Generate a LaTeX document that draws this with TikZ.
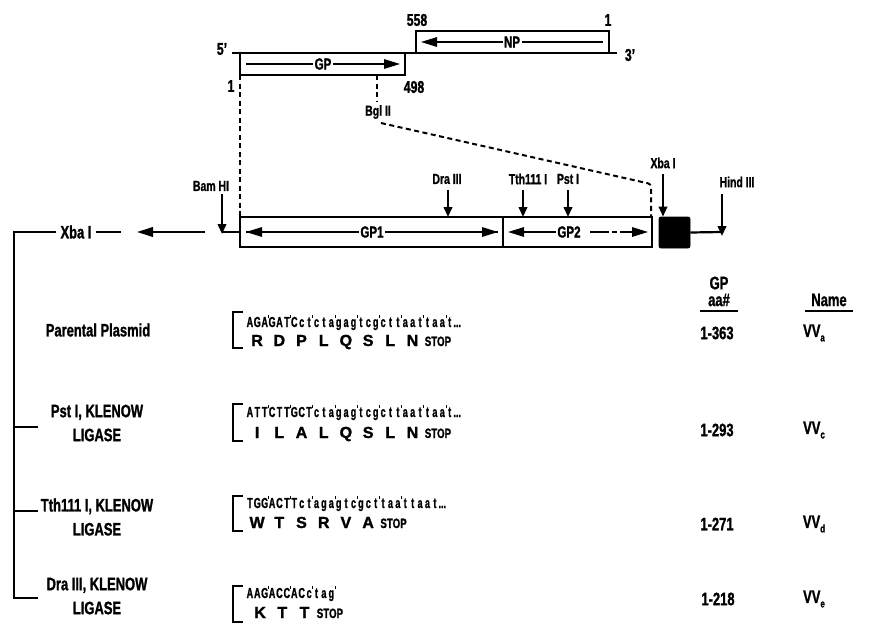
\documentclass[tikz,border=0pt]{standalone}
\usepackage{fontspec}
\setmainfont{Liberation Sans}[FakeStretch=0.72,BoldFeatures={FakeBold=1.2}]
\newfontfamily\aafont{Liberation Sans}[BoldFeatures={FakeBold=1.6}]
\newfontfamily\ntfont{Liberation Sans}[FakeStretch=0.62,BoldFeatures={FakeBold=1.2}]
\usetikzlibrary{arrows.meta}
\newcommand\seqch[1]{\if#1'\makebox[0pt]{\raisebox{9pt}{\rule{0.9pt}{3pt}}}\else\makebox[7.4pt]{#1}\fi}
\def\seqloop#1{\ifx#1\relax\else\seqch{#1}\expandafter\seqloop\fi}
\newcommand\seqrun[1]{\seqloop#1\relax}
\newcommand\sbs[1]{\raisebox{-4.5pt}{\fontsize{11}{11}\selectfont #1}}
\tikzset{
  bx/.style={draw,line width=2.4pt,inner sep=0pt,outer sep=0pt,fill=white},
  big/.style={font=\fontsize{18}{24}\selectfont\bfseries,inner sep=0pt,align=center},
  num/.style={font=\fontsize{17}{18}\selectfont\bfseries,inner sep=0pt},
  site/.style={font=\fontsize{14.5}{15}\selectfont\bfseries,inner sep=0pt},
  inbox/.style={font=\fontsize{16}{16}\selectfont\bfseries,fill=white,inner sep=1.5pt},
  nt/.style={font=\ntfont\fontsize{14.5}{15}\selectfont\bfseries,inner sep=0pt,anchor=base west},
  aa/.style={font=\aafont\fontsize{16}{16}\selectfont\bfseries,inner sep=0pt,anchor=base},
  stp/.style={font=\fontsize{13.5}{14}\selectfont\bfseries,inner sep=0pt,anchor=base west},
  ln/.style={line width=2.2pt},
  cut/.style={line width=2.2pt,-{Triangle[length=10pt,width=8.5pt]}},
  inarrow/.style={line width=1.6pt},
  tipb/.style={-{Triangle[length=16pt,width=9.5pt]}},
  dsh/.style={line width=2pt,dash pattern=on 5pt off 3.5pt},
  brk/.style={line width=2.6pt},
}
\begin{document}
\begin{tikzpicture}[x=1pt,y=-1pt]
\useasboundingbox (0,0) rectangle (877,624);
% ---------- top genome ----------
\coordinate (g5) at (232,53);
\coordinate (g3) at (617,53);
\draw[ln] (g5) -- (g3);
\node[bx,minimum width=165pt,minimum height=22pt] (gp) at (322.5,64) {};
\node[bx,minimum width=193pt,minimum height=22pt] (np) at (512.5,42) {};
\node[num] (t5) at (222,49) {5'};
\node[num] (t3) at (630,55) {3'};
\node[num] (n558) at (417,20) {558};
\node[num] (n1np) at (608,20) {1};
\node[num] (n1gp) at (231,86) {1};
\node[num] (n498) at (414,87) {498};
\draw[inarrow,tipb] ([xshift=6pt]gp.west) -- ([xshift=-5pt]gp.east);
\node[inbox] (gplab) at (323,64) {GP};
\draw[inarrow,tipb] ([xshift=-6pt]np.east) -- ([xshift=5pt]np.west);
\node[inbox] (nplab) at (512,42) {NP};
% ---------- middle map ----------
\node[bx,minimum width=263pt,minimum height=30pt] (gp1) at (371.5,232) {};
\node[bx,minimum width=149pt,minimum height=30pt] (gp2) at (577.5,232) {};
\node[draw,fill=black,rounded corners=2pt,minimum width=31pt,minimum height=31pt,inner sep=0pt,line width=0.8pt] (xbox) at (674.5,232.5) {};
\coordinate (bamc) at (222,232);
\coordinate (hindc) at (722,232);
\draw[ln] (bamc) -- (gp1.west);
\draw[ln] (xbox.east) -- (hindc);
\draw[inarrow,tipb] ([xshift=-5pt]gp1.east) -- ([xshift=6pt]gp1.west);
\draw[inarrow,tipb] ([xshift=6pt]gp1.west) -- ([xshift=-5pt]gp1.east);
\node[inbox] (gp1lab) at (372,232) {GP1};
\coordinate (gp2m) at (560,232);
\coordinate (gp2s) at (590,232);
\coordinate (gp2d) at (625,232);
\draw[inarrow,tipb] (gp2m) -- ([xshift=5pt]gp2.west);
\draw[inarrow] (gp2s) -- (604,232);
\draw[inarrow,dash pattern=on 5pt off 3pt] (604,232) -- (gp2d);
\draw[inarrow,tipb] (gp2d) -- ([xshift=-4pt]gp2.east);
\node[inbox] (gp2lab) at (569,232) {GP2};
% restriction sites
\node[site] (bam) at (211,186) {Bam HI};
\coordinate (bamt) at (222,194);
\draw[cut] (bamt) -- ([yshift=-2pt]bamc);
\node[site] (dra) at (447,179) {Dra III};
\coordinate (drat) at (448,190);
\draw[cut] (drat) -- (drat |- gp1.north);
\node[site] (tth) at (528,179) {Tth111 I};
\coordinate (ttht) at (523,190);
\draw[cut] (ttht) -- (ttht |- gp2.north);
\node[site] (pst) at (568,179) {Pst I};
\coordinate (pstt) at (568,190);
\draw[cut] (pstt) -- (pstt |- gp2.north);
\node[site] (xba) at (663,163) {Xba I};
\coordinate (xbat) at (663,174);
\draw[cut] (xbat) -- (xbat |- xbox.north);
\node[site] (hind) at (737,182) {Hind III};
\coordinate (hindt) at (722,194);
\draw[cut] (hindt) -- ([yshift=-4pt]hindc);
% dashed correspondence lines
\node[site] (bgl) at (378,112) {Bgl II};
\coordinate (bglt) at (377,75);
\draw[dsh] (bglt) -- (377,102);
\coordinate (bk1) at (381,123);
\coordinate (bk2) at (651,184);
\draw[dsh,rounded corners=3pt] (bk1) -- (bk2) -- (bk2 |- gp2.north);
\draw[dsh] (gp.south west) -- (gp1.north west);
% ---------- left tree ----------
\node[big] (xbaL) at (76,232) {Xba I};
\coordinate (vtop) at (14,232);
\coordinate (vbot) at (14,598);
\coordinate (br1) at (38,427);
\coordinate (br2) at (38,511);
\coordinate (br3) at (38,598);
\draw[ln,line join=miter] ([xshift=-4pt]xbaL.west) -- (vtop) -- (vbot) -- (br3);
\draw[ln] (br1) -- (br1 -| vtop);
\draw[ln] (br2) -- (br2 -| vtop);
\coordinate (xr1) at (121,232);
\draw[ln] ([xshift=4pt]xbaL.east) -- (xr1);
\coordinate (xa1) at (205,232);
\coordinate (xa2) at (137,232);
\draw[ln,tipb] (xa1) -- (xa2);
% ---------- row labels ----------
\node[big] (lab1) at (98,330) {Parental Plasmid};
\node[big] (lab2) at (97,423) {Pst I, KLENOW\\LIGASE};
\node[big] (lab3) at (97,517) {Tth111 I, KLENOW\\LIGASE};
\node[big] (lab4) at (97,596) {Dra III, KLENOW\\LIGASE};
% ---------- sequences ----------
% row 1
\draw[brk] (243,312) -- (233,312) -- (233,348) -- (243,348);
\node[nt] (s1) at (246,327) {\seqrun{AGA'GAT'Cct'cta'gag'tcg'ctt'aat'taa't}...};
\foreach \a [count=\i from 0] in {R,D,P,L,Q,S,L,N}
  \node[aa] (r1a\i) at ({246+7.4*(3*\i+1.5)},346) {\a};
\node[stp] (r1s) at ({246+7.4*24+1},346) {STOP};
% row 2
\draw[brk] (243,404) -- (233,404) -- (233,441) -- (243,441);
\node[nt] (s2) at (246,417) {\seqrun{ATT'CTT'GCT'cta'gag'tcg'ctt'aat'taa't}...};
\foreach \a [count=\i from 0] in {I,L,A,L,Q,S,L,N}
  \node[aa] (r2a\i) at ({246+7.4*(3*\i+1.5)},438) {\a};
\node[stp] (r2s) at ({246+7.4*24+1},438) {STOP};
% row 3
\draw[brk] (243,496) -- (233,496) -- (233,531) -- (243,531);
\node[nt] (s3) at (246,508) {\seqrun{TGG'ACT'Tct'aga'gtc'gct'taa'ttaat}...};
\foreach \a [count=\i from 0] in {W,T,S,R,V,A}
  \node[aa] (r3a\i) at ({246+7.4*(3*\i+1.5)},528) {\a};
\node[stp] (r3s) at ({246+7.4*18+1},528) {STOP};
% row 4
\draw[brk] (243,586) -- (233,586) -- (233,622) -- (243,622);
\node[nt] (s4) at (246,598) {\seqrun{AAG'ACC'ACc'tag'}};
\foreach \a [count=\i from 0] in {K,T,T}
  \node[aa] (r4a\i) at ({246+7.4*(3*\i+1.5)+3},618) {\a};
\node[stp] (r4s) at ({246+7.4*9+4},618) {STOP};
% ---------- right columns ----------
\node[big] (hgp) at (719,283) {GP};
\node[big] (haa) at (719,300) {aa\#};
\node[big] (hname) at (829,300) {Name};
\coordinate (u1a) at (700,311); \coordinate (u1b) at (738,311);
\coordinate (u2a) at (805,311); \coordinate (u2b) at (853,311);
\draw[line width=2pt] (u1a) -- (u1b);
\draw[line width=2pt] (u2a) -- (u2b);
\node[big] (v1) at (717,333) {1-363};
\node[big] (w1) at (814,333) {VV\sbs{a}};
\node[big] (v2) at (717,430) {1-293};
\node[big] (w2) at (814,430) {VV\sbs{c}};
\node[big] (v3) at (717,524) {1-271};
\node[big] (w3) at (814,524) {VV\sbs{d}};
\node[big] (v4) at (718,599) {1-218};
\node[big] (w4) at (814,599) {VV\sbs{e}};
\end{tikzpicture}
\end{document}
